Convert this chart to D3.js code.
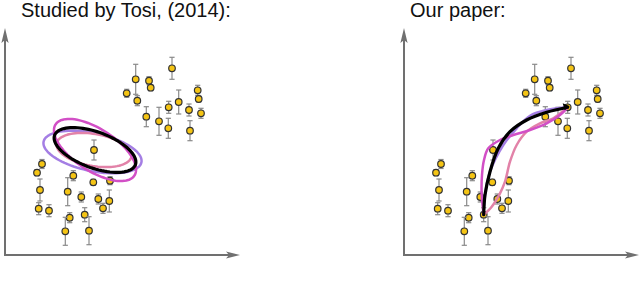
<!DOCTYPE html>
<html>
<head>
<meta charset="utf-8">
<script src="https://cdn.jsdelivr.net/npm/d3@7"></script>
<style>
  html, body { margin: 0; padding: 0; background: #fff; }
  svg { display: block; }
  .title { font-family: "Liberation Sans", Arial, sans-serif; font-size: 20px; fill: #111; }
  .axis-line { stroke: #707070; stroke-width: 2; fill: none; }
  .err { stroke: #8a8a8a; stroke-width: 1.2; }
  .dot { fill: #f4c414; stroke: #333; stroke-width: 1.2; }
  .fit { fill: none; stroke-linecap: round; stroke-linejoin: round; }
</style>
</head>
<body>
<div id="chart"></div>
<script>
const obsX = [37, 32, 35, 33.7, 44, 68.3, 62.7, 76.3, 64.7, 60.3, 79.7, 84, 88.3, 89, 93.3, 98, 104.3, 105,
              121.7, 130.7, 132.3, 144, 145.7, 141.3, 154, 167, 163.7, 163.3, 173.7, 184, 185, 192.7, 193.7, 196];
const obsY = [91, 82.3, 65, 46.3, 44.3, 79.3, 63.3, 58, 37.3, 23.7, 40.3, 24.3, 72.7, 105, 56, 46.7, 54, 74.3,
              161.7, 175.7, 154.3, 174.3, 167.3, 138.3, 133.7, 186.7, 147.7, 126.7, 153, 145, 124.3, 164.7, 156, 141.7];
const obsErr = [4.5, 3, 11, 6, 6, 5, 14, 5, 5, 14, 7, 14, 3, 10, 5, 5, 11, 4,
                4, 15, 5, 4, 3, 10, 14, 11, 6, 10, 12, 6, 10, 5, 3, 5];

// left panel: fitted ellipses [cx, cy, rx, ry, angle in degrees]
const ellipseNames = ["purple", "pink", "magenta", "black"];
const ellipseParams = [
  [87.5, 103, 50, 19, -12],
  [89, 105, 38, 16, -10],
  [90, 105, 47, 21, -33],
  [90, 105, 43, 18, -20]
];

// right panel: fitted paths from one observation to another
const pathNames = ["pink", "purple", "magenta", "black"];
const pathX = [
  [79.7, 87.7, 96, 101, 106, 112.7, 122.7, 136, 149.3, 163.7],
  [79.7, 81, 86, 99.3, 112.7, 126, 142.7, 163.7],
  [79.7, 77.7, 78, 80, 84.3, 96, 109.3, 126, 142.7, 156, 163.7],
  [79.7, 81, 86, 94.3, 106, 122.7, 142.7, 163.7]
];
const pathY = [
  [40.3, 48.3, 61.7, 73.3, 93.3, 110, 123.3, 131.7, 136.7, 147.7],
  [40.3, 60, 83.3, 110, 126.7, 139.3, 145, 147.7],
  [40.3, 60, 80, 95, 106.7, 115, 120, 125, 131.7, 140, 147.7],
  [40.3, 60, 83.3, 106.7, 123.3, 135, 142.7, 147.7]
];

const titles = ["Studied by Tosi, (2014):", "Our paper:"];

const colors = { purple: "#a47ee4", pink: "#e282a8", magenta: "#d24fc6", black: "#000" };
const widths = { purple: 2.5, pink: 2.5, magenta: 2.5, black: 3.2 };

const W = 640, H = 283;
const panelOffset = [0, 399];

const svg = d3.select("#chart").append("svg")
  .attr("width", W).attr("height", H);

const y = d3.scaleLinear().domain([0, 230]).range([255, 25]);

panelOffset.forEach((off, pi) => {
  const x = d3.scaleLinear().domain([0, 235]).range([5 + off, 240 + off]);
  const g = svg.append("g");

  // title
  g.append("text").attr("class", "title")
    .attr("x", pi === 0 ? 21 : 410).attr("y", 17)
    .text(titles[pi]);

  // axes with arrow heads
  g.append("line").attr("class", "axis-line")
    .attr("x1", x(0)).attr("x2", x(0)).attr("y1", y(-1)).attr("y2", y(222));
  g.append("line").attr("class", "axis-line")
    .attr("x1", x(-1)).attr("x2", x(229)).attr("y1", y(0)).attr("y2", y(0));
  g.append("path")
    .attr("fill", "#707070")
    .attr("d", `M${x(0)},${y(227)} L${x(0) - 3.6},${y(212)} L${x(0)},${y(215)} L${x(0) + 3.6},${y(212)} Z`);
  g.append("path")
    .attr("fill", "#707070")
    .attr("d", `M${x(235)},${y(0)} L${x(221)},${y(0) - 3.4} L${x(224)},${y(0)} L${x(221)},${y(0) + 3.4} Z`);

  // error bars + dots
  const idx = d3.range(obsX.length);
  const eb = g.append("g").selectAll("g").data(idx).enter().append("g");
  eb.append("line").attr("class", "err")
    .attr("x1", i => x(obsX[i])).attr("x2", i => x(obsX[i]))
    .attr("y1", i => y(obsY[i] - obsErr[i])).attr("y2", i => y(obsY[i] + obsErr[i]));
  eb.append("line").attr("class", "err")
    .attr("x1", i => x(obsX[i]) - 2.6).attr("x2", i => x(obsX[i]) + 2.6)
    .attr("y1", i => y(obsY[i] - obsErr[i])).attr("y2", i => y(obsY[i] - obsErr[i]));
  eb.append("line").attr("class", "err")
    .attr("x1", i => x(obsX[i]) - 2.6).attr("x2", i => x(obsX[i]) + 2.6)
    .attr("y1", i => y(obsY[i] + obsErr[i])).attr("y2", i => y(obsY[i] + obsErr[i]));
  eb.append("circle").attr("class", "dot")
    .attr("cx", i => x(obsX[i])).attr("cy", i => y(obsY[i])).attr("r", 3.3);

  if (pi === 0) {
    // ellipses drawn in data space
    const lineE = d3.line().x(p => x(p[0])).y(p => y(p[1])).curve(d3.curveLinearClosed);
    ellipseParams.forEach((e, k) => {
      const [cx, cy, rx, ry, ang] = e;
      const a = ang * Math.PI / 180;
      const pts = d3.range(0, 360, 4).map(t => {
        const r = t * Math.PI / 180;
        const ex = rx * Math.cos(r), ey = ry * Math.sin(r);
        return [cx + ex * Math.cos(a) - ey * Math.sin(a), cy + ex * Math.sin(a) + ey * Math.cos(a)];
      });
      g.append("path").attr("class", "fit")
        .attr("stroke", colors[ellipseNames[k]])
        .attr("stroke-width", widths[ellipseNames[k]])
        .attr("d", lineE(pts));
    });
  } else {
    const lineP = d3.line().x(p => x(p[0])).y(p => y(p[1])).curve(d3.curveCatmullRom.alpha(0.5));
    pathX.forEach((px, k) => {
      const pts = px.map((v, j) => [v, pathY[k][j]]);
      g.append("path").attr("class", "fit")
        .attr("stroke", colors[pathNames[k]])
        .attr("stroke-width", widths[pathNames[k]])
        .attr("d", lineP(pts));
    });
    // end marker
    const ex = x(pathX[3][pathX[3].length - 1]), ey = y(pathY[3][pathY[3].length - 1]);
    g.append("path").attr("fill", "#000")
      .attr("d", `M${ex + 2},${ey - 1} L${ex - 5},${ey - 4} L${ex - 3},${ey + 3} Z`);
  }
});
</script>
</body>
</html>
